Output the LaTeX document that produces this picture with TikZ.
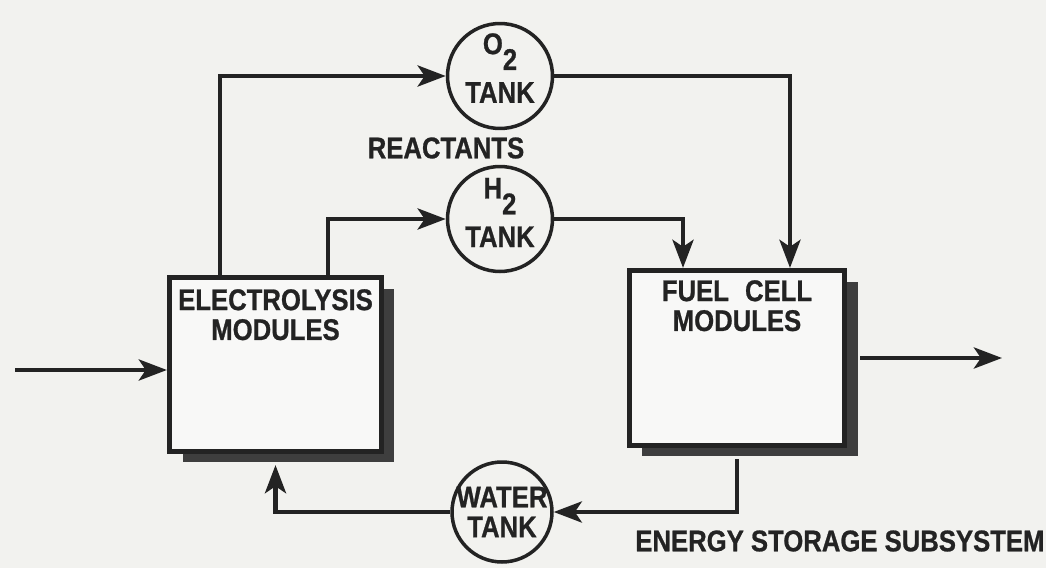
\documentclass[tikz,border=0pt]{standalone}
\usepackage{fontspec}
\newfontfamily\dwgfont{Liberation Sans}[FakeStretch=0.86, FakeBold=0.8]
\definecolor{ink}{RGB}{35,35,35}
\definecolor{shade}{RGB}{62,62,62}
\definecolor{paper}{RGB}{242,242,239}
\usetikzlibrary{arrows.meta,positioning,shadows}
\newcommand{\dwg}{\dwgfont\bfseries\fontsize{17}{17}\selectfont}

\begin{document}
\begin{tikzpicture}[
      x=0.02cm, y=-0.02cm,
      module/.style={draw=ink, line width=3pt, fill=paper!50!white, minimum width=4.24cm, minimum height=3.48cm,
        drop shadow={shadow xshift=0.26cm, shadow yshift=-0.22cm, fill=shade, opacity=1}},
      tank/.style={circle, draw=ink, line width=2pt, fill=paper, minimum size=2.1cm, inner sep=0pt},
      tag/.style={font=\dwg, text=ink, align=center, inner sep=0pt},
      flow/.style={-{Stealth[length=16pt,width=12pt,inset=4pt]}, line width=2.4pt, draw=ink}
    ]
      % paper
      \useasboundingbox (0,0) rectangle (1046,568);
      \fill[paper] (0,0) rectangle (1046,568);

      % modules
      \node[module, label={[tag, anchor=north, yshift=-0.28cm]north:ELECTROLYSIS\\MODULES}] (elec) at (275.5,364.5) {};
      \node[module, minimum width=4.31cm, minimum height=3.5cm,
        label={[tag, anchor=north, yshift=-0.24cm]north:FUEL\hspace{0.3em} CELL\\MODULES}] (fuel) at (737,358) {};

      % tanks
      \node[tank, label={[tag, anchor=center, yshift=0.16cm]center:O\raisebox{-9pt}{2}\\[6pt]TANK}] (o2) at (500,76) {};
      \node[tank, label={[tag, anchor=center, yshift=0.13cm]center:H\raisebox{-9pt}{2}\\[6pt]TANK}] (h2) at (500,219) {};
      \node[tank, minimum size=2cm, label={[tag, anchor=center]center:WATER\\TANK}] (water) at (502,512) {};

      \node[tag] (reactants) at (446,148) {REACTANTS};
      \node[tag, anchor=west] (subsys) at (635,541) {ENERGY STORAGE SUBSYSTEM};

      % in and out
      \coordinate (src) at (15,370);
      \coordinate (sink) at (1002,358);
      \draw[flow] (src) -- (src -| elec.west);
      \draw[flow] ([xshift=0.26cm]fuel.east) -- (sink);

      % reactants
      \draw[flow] ([xshift=-1.11cm]elec.north) |- (o2);
      \draw[flow] ([xshift=1.05cm]elec.north) |- (h2);
      \draw[flow] (o2) -| ([xshift=1.06cm]fuel.north);
      \draw[flow] (h2) -| ([xshift=-1.08cm]fuel.north);

      % water loop
      \draw[flow] ([yshift=-0.22cm]fuel.south) |- (water);
      \draw[flow] (water) -| ([yshift=-0.22cm]elec.south);
    \end{tikzpicture}
\end{document}
